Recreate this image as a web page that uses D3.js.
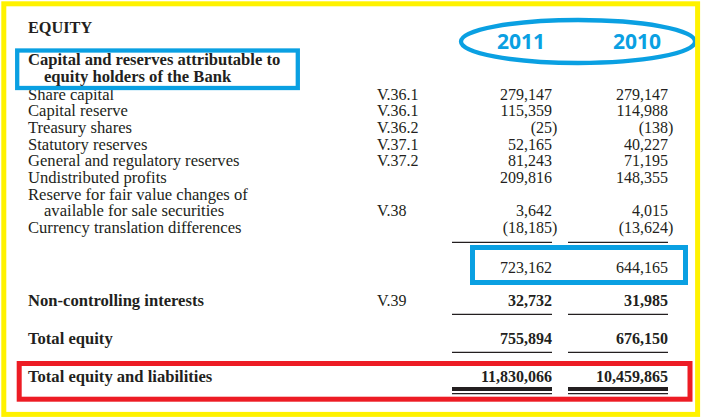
<!DOCTYPE html>
<html><head><meta charset="utf-8">
<script src="https://cdn.jsdelivr.net/npm/d3@7"></script>
<style>body{margin:0;background:#fff} svg{display:block}</style>
</head><body><svg id="c" width="704" height="418"></svg>
<script>
// ---------- data ----------
const years = ["2011", "2010"];
const sectionTitle = "EQUITY";
const groupTitle = ["Capital and reserves attributable to", "equity holders of the Bank"];
const detailLabels = [
  ["Share capital"], ["Capital reserve"], ["Treasury shares"], ["Statutory reserves"],
  ["General and regulatory reserves"], ["Undistributed profits"],
  ["Reserve for fair value changes of", "available for sale securities"],
  ["Currency translation differences"]
];
const detailNotes = ["V.36.1", "V.36.1", "V.36.2", "V.37.1", "V.37.2", "", "V.38", ""];
const detail2011 = [279147, 115359, -25, 52165, 81243, 209816, 3642, -18185];
const detail2010 = [279147, 114988, -138, 40227, 71195, 148355, 4015, -13624];
const subtotal2011 = 723162;
const subtotal2010 = 644165;
const summaryLabels = ["Non-controlling interests", "Total equity", "Total equity and liabilities"];
const summaryNotes = ["V.39", "", ""];
const summary2011 = [32732, 755894, 11830066];
const summary2010 = [31985, 676150, 10459865];

// ---------- layout ----------
const INK = "#231f20", BLUE = "#0aa0e2", RED = "#ed1c24", YEL = "#fff200";
const SERIF = "'Liberation Serif','Times New Roman',serif";
const LABEL_SIZE = 16.6, NUM_SIZE = 16;
const svg = d3.select("#c");

const xLabel = 28, xIndent = 44, xNote = 377;
const xCol = d3.scalePoint().domain(years).range([552, 668]);   // right edges of number columns
const colWidth = 100;
const yLine = d3.scaleLinear().domain([0, 8]).range([99.5, 233]); // detail line baselines
const ySubtotal = 273;
const ySummary = d3.scaleOrdinal().domain(summaryLabels).range([305.7, 344, 381.7]);

const fmtN = d3.format(",");
const fmt = v => v < 0 ? "(" + fmtN(-v) + ")" : fmtN(v);
const hang = v => v < 0 ? 5.3 : 0;

function text(x, y, s, opt = {}) {
  return svg.append("text").attr("x", x).attr("y", y).text(s)
    .attr("font-family", opt.family || SERIF)
    .attr("font-size", opt.size || NUM_SIZE)
    .attr("font-weight", opt.bold ? "bold" : "normal")
    .attr("text-anchor", opt.anchor || "start")
    .attr("fill", opt.fill || INK);
}

// titles
text(xLabel, 33, sectionTitle, {bold: true, size: 16.3});
text(xLabel, 65, groupTitle[0], {bold: true, size: LABEL_SIZE});
text(xIndent, 82, groupTitle[1], {bold: true, size: LABEL_SIZE});

// year headers
years.forEach(y => text(xCol(y) - 7, 48.5, y, {family: "'Open Sans',sans-serif", size: 21, bold: true, fill: BLUE, anchor: "end"}));

// detail rows
let line = 0;
detailLabels.forEach((lab, i) => {
  lab.forEach((s, j) => text(j === 0 ? xLabel : xIndent, yLine(line + j), s, {size: LABEL_SIZE}));
  const yy = yLine(line + lab.length - 1);
  if (detailNotes[i]) text(xNote, yy, detailNotes[i]);
  [[years[0], detail2011[i]], [years[1], detail2010[i]]].forEach(([yr, v]) =>
    text(xCol(yr) + hang(v), yy, fmt(v), {anchor: "end"}));
  line += lab.length;
});

// rules under columns
function rule(y, w) {
  years.forEach(yr => svg.append("line")
    .attr("x1", xCol(yr) - colWidth).attr("x2", xCol(yr)).attr("y1", y).attr("y2", y)
    .attr("stroke", INK).attr("stroke-width", w || 1.2));
}
rule(242.3);

// subtotal
text(xCol(years[0]), ySubtotal, fmt(subtotal2011), {anchor: "end"});
text(xCol(years[1]), ySubtotal, fmt(subtotal2010), {anchor: "end"});

// summary rows
summaryLabels.forEach((lab, i) => {
  const yy = ySummary(lab);
  text(xLabel, yy, lab, {bold: true, size: LABEL_SIZE});
  if (summaryNotes[i]) text(xNote, yy, summaryNotes[i]);
  text(xCol(years[0]), yy, fmt(summary2011[i]), {anchor: "end", bold: true});
  text(xCol(years[1]), yy, fmt(summary2010[i]), {anchor: "end", bold: true});
});
rule(314.3);
rule(352.3);
rule(389, 4);
rule(393.6, 1.2);

// annotations
svg.append("rect").attr("x", 17.2).attr("y", 50.5).attr("width", 280.6).attr("height", 37.5)
  .attr("fill", "none").attr("stroke", BLUE).attr("stroke-width", 4.3);
svg.append("rect").attr("x", 472.5).attr("y", 247.5).attr("width", 213).attr("height", 35)
  .attr("fill", "none").attr("stroke", BLUE).attr("stroke-width", 5);
svg.append("ellipse").attr("cx", 578).attr("cy", 41.5).attr("rx", 117).attr("ry", 21.5)
  .attr("fill", "none").attr("stroke", BLUE).attr("stroke-width", 4.3);
svg.append("rect").attr("x", 19.2).attr("y", 363.5).attr("width", 670.8).attr("height", 35.7)
  .attr("fill", "none").attr("stroke", RED).attr("stroke-width", 5);
svg.append("rect").attr("x", 3.8).attr("y", 3.8).attr("width", 693.8).attr("height", 410.6)
  .attr("fill", "none").attr("stroke", YEL).attr("stroke-width", 5);
</script>
</body></html>
